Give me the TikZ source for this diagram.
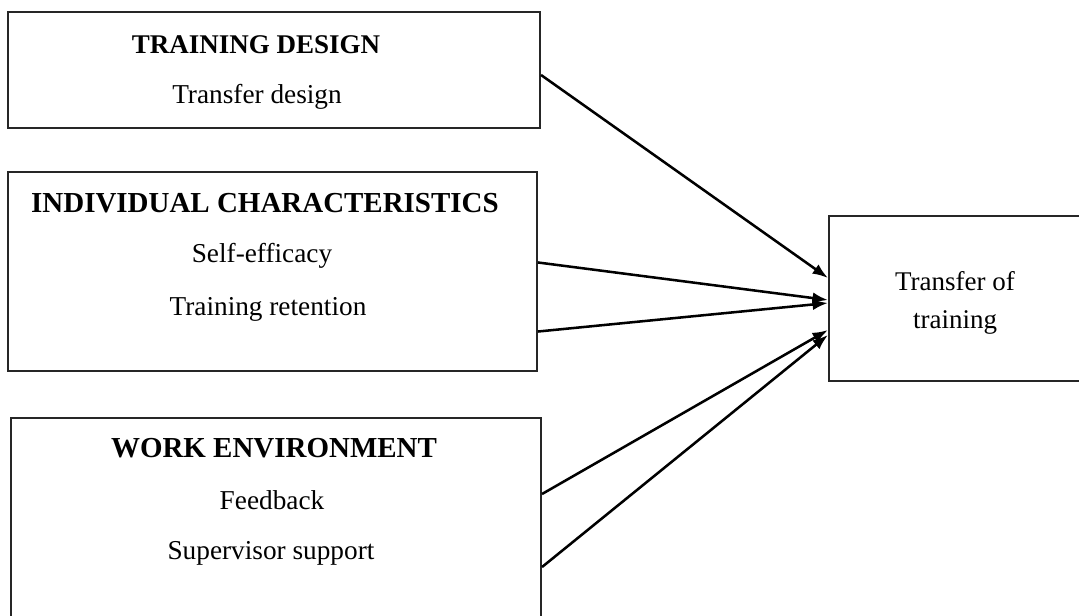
\documentclass[tikz,border=0pt]{standalone}
\usepackage{fontspec}
\setmainfont{Liberation Serif}
\usetikzlibrary{arrows.meta}
\tikzset{x=0.025cm, y=-0.025cm,
    factorbox/.style={draw=black!85, line width=1.4pt, inner sep=0pt},
    heading/.style={font=\fontsize{19.2}{23}\selectfont\bfseries},
    bigheading/.style={font=\fontsize{20.6}{24}\selectfont\bfseries},
    item/.style={font=\fontsize{19.4}{23}\selectfont},
    link/.style={line width=1.8pt, -{Latex[length=11pt,width=8pt]}},
    }

\begin{document}
\begin{tikzpicture}
\useasboundingbox (0,0) rectangle (1079,616);
% factor boxes
\node[factorbox, minimum width=13.3cm, minimum height=2.9cm] (design) at (274,70) {};
\node[factorbox, minimum width=13.225cm, minimum height=4.975cm] (indiv) at (272.5,271.5) {};
\node[factorbox, minimum width=13.25cm, minimum height=5.1cm] (env) at (276,520) {};
\node[factorbox, minimum width=6.4cm, minimum height=4.125cm] (transfer) at (957,298.5) {};
% texts
\node[heading] (designhead) at (256,45) {TRAINING DESIGN};
\node[item] (designitem) at (257,97) {Transfer design};
\node[bigheading] (indivhead) at (265,203) {INDIVIDUAL CHARACTERISTICS};
\node[item] (efficacy) at (262,256) {Self-efficacy};
\node[item] (retention) at (268,309) {Training retention};
\node[bigheading] (envhead) at (274,448) {WORK ENVIRONMENT};
\node[item] (feedback) at (272,500) {Feedback};
\node[item] (support) at (271,553) {Supervisor support};
\node[item, align=center, font=\fontsize{19.2}{27}\selectfont] (outcome) at (955,303) {Transfer of\\training};
% arrows
\coordinate (t1) at (828,278);
\coordinate (t2) at (828,300);
\coordinate (t3) at (828,303);
\coordinate (t4) at (828,330);
\coordinate (t5) at (828,335);
\draw[link] ([yshift=-0.125cm]design.east) -- (t1);
\draw[link] ([yshift=0.225cm]indiv.east) -- (t2);
\draw[link] ([yshift=-1.5cm]indiv.east) -- (t3);
\draw[link] ([yshift=0.65cm]env.east) -- (t4);
\draw[link] ([yshift=-1.175cm]env.east) -- (t5);
\end{tikzpicture}
\end{document}
